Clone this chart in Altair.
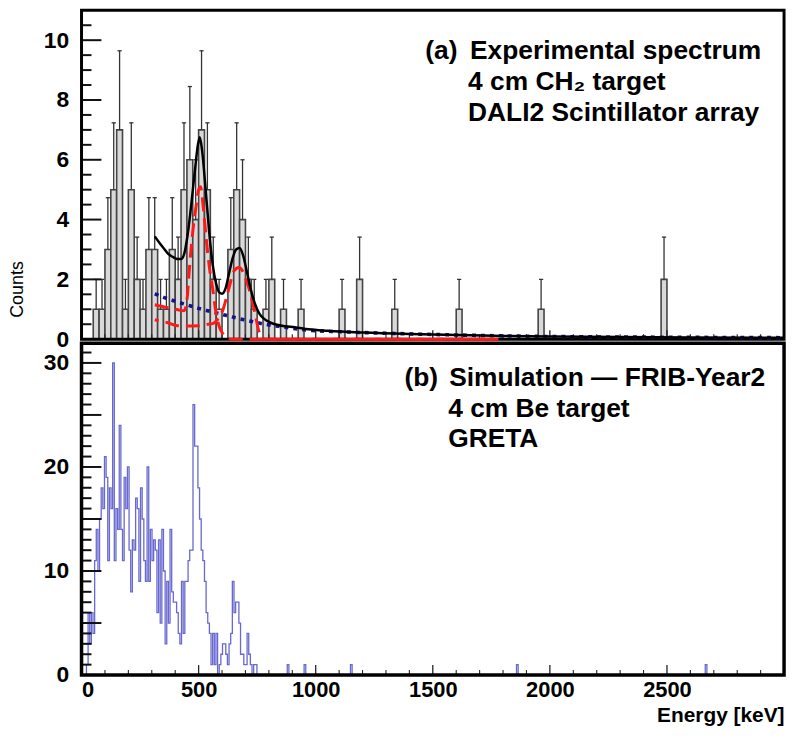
import altair as alt
import pandas as pd
import math

FONT = "Liberation Sans"

# ---------------- panel (a): experimental spectrum ----------------
EXP_BIN = 25  # keV
exp_centers = [62.5, 87.5, 112.5, 137.5, 162.5, 187.5, 212.5, 237.5, 262.5, 287.5,
               312.5, 337.5, 362.5, 387.5, 412.5, 437.5, 462.5, 487.5, 512.5, 537.5,
               562.5, 587.5, 637.5, 662.5, 687.5, 712.5, 737.5, 787.5, 812.5, 862.5,
               937.5, 1112.5, 1187.5, 1337.5, 1612.5, 1962.5, 2487.5]
exp_counts = [1, 1, 3, 5, 7, 1, 5, 2, 1, 3,
              3, 1, 1, 3, 2, 5, 6, 4, 7, 5,
              2, 1, 3, 5, 4, 2, 1, 1, 2, 1,
              1, 1, 2, 1, 1, 1, 2]

fit_energy = [313, 330, 350, 370, 390, 410, 425, 440, 455, 470, 485, 497, 505, 515, 530,
              545, 560, 575, 590, 600, 615, 630, 645, 660, 675, 690, 705, 720, 740, 760,
              780, 800, 830, 870, 910, 970, 1050, 1200, 1400, 1600, 1800, 2000, 2300, 2600, 3000]
fit_counts = [3.44, 3.25, 3.05, 2.85, 2.75, 2.68, 2.68, 2.9, 3.6, 4.6, 5.7, 6.5, 6.75, 6.3, 5.0,
              3.6, 2.5, 1.85, 1.55, 1.52, 1.7, 2.2, 2.7, 3.0, 3.05, 2.8, 2.3, 1.75, 1.2, 0.85,
              0.68, 0.58, 0.49, 0.43, 0.4, 0.33, 0.28, 0.22, 0.17, 0.14, 0.11, 0.09, 0.07, 0.06, 0.05]

bkg_energy = [313, 350, 400, 450, 500, 550, 600, 650, 700, 770, 850, 970, 1100, 1300,
              1600, 2000, 2500, 3000]
bkg_counts = [1.52, 1.4, 1.27, 1.15, 1.03, 0.93, 0.83, 0.73, 0.64, 0.52, 0.42, 0.3, 0.25, 0.2,
              0.14, 0.09, 0.065, 0.05]

peak1_energy = [313, 340, 365, 390, 420, 438, 450, 462, 475, 490, 500, 508, 520, 532, 546,
                560, 574, 587, 602, 620, 640, 1780]
peak1_counts = [1.15, 1.1, 1.06, 1.02, 0.97, 0.95, 1.3, 2.5, 3.6, 4.5, 5.0, 5.1, 4.4, 3.4, 2.4,
                1.7, 0.9, 0.45, 0.2, 0.06, 0.0, 0.0]

peak2_energy = [313, 340, 365, 405, 447, 500, 540, 560, 580, 602, 630, 651, 672, 690, 700,
                715, 729, 745, 757, 770, 785, 1780]
peak2_counts = [0.65, 0.6, 0.56, 0.46, 0.44, 0.45, 0.5, 0.52, 0.65, 0.94, 1.72, 2.28, 2.4, 2.25, 2.06,
                1.7, 1.28, 0.7, 0.28, 0.08, 0.0, 0.0]

# ---------------- panel (b): simulation ----------------
SIM_BIN = 7  # keV
sim_counts = [0, 0, 0, 1, 6, 3, 6, 4, 11, 14, 10, 15, 18, 16, 21, 19, 11, 18, 16, 30,
              11, 16, 14, 24, 14, 11, 19, 16, 20, 12, 8, 13, 12, 17, 16, 9, 18, 15, 11, 9,
              20, 9, 14, 11, 13, 12, 6, 13, 5, 14, 10, 3, 9, 5, 14, 8, 7, 7, 6, 4,
              3, 9, 4, 9, 9, 11, 12, 12, 26, 22, 22, 18, 15, 12, 11, 9, 6, 5, 4, 1,
              4, 1, 4, 0, 1, 2, 3, 3, 2, 1, 3, 4, 9, 6, 7, 7, 5, 2, 2, 1,
              1, 4, 2, 1, 0, 1, 1, 0]
sim_single_energy = [882, 954, 1152, 1861, 2667]
sim_single_counts = [1, 1, 1, 1, 1]

x_tick_labels = [0, 500, 1000, 1500, 2000, 2500]
top_y_labels = [0, 2, 4, 6, 8, 10]
bot_y_labels = [0, 10, 20, 30]

# ---------------- geometry ----------------
W = 707
H_TOP = 331
H_BOT = 334
X_MAX = 3000

xs = alt.Scale(domain=[0, X_MAX], nice=False, zero=False)
ys_top = alt.Scale(domain=[0, 11], nice=False)
ys_bot = alt.Scale(domain=[0, 31.9], nice=False)

# ---------------- data frames ----------------
hist = pd.DataFrame({"c": exp_centers, "n": exp_counts})
hist["x0"] = hist["c"] - EXP_BIN / 2
hist["x1"] = hist["c"] + EXP_BIN / 2
hist["top"] = hist["n"] + hist["n"].apply(math.sqrt)
hist["cap0"] = hist["c"] - 9
hist["cap1"] = hist["c"] + 9

fit_df = pd.DataFrame({"e": fit_energy, "n": fit_counts})
bkg_df = pd.DataFrame({"e": bkg_energy, "n": bkg_counts})
p1_df = pd.DataFrame({"e": peak1_energy, "n": peak1_counts})
p2_df = pd.DataFrame({"e": peak2_energy, "n": peak2_counts})

pts = [(i * SIM_BIN, c) for i, c in enumerate(sim_counts)]
pts.append((len(sim_counts) * SIM_BIN, 0))
for e, c in zip(sim_single_energy, sim_single_counts):
    pts.append((e - SIM_BIN / 2, c))
    pts.append((e + SIM_BIN / 2, 0))
pts.append((X_MAX, 0))
pts.sort(key=lambda p: p[0])
sim_df = pd.DataFrame({"e": [p[0] for p in pts], "n": [p[1] for p in pts],
                       "o": list(range(len(pts)))})

x_major = pd.DataFrame({"v": list(range(0, X_MAX + 1, 500))})
x_minor = pd.DataFrame({"v": [v for v in range(100, X_MAX, 100) if v % 500]})
ty_major = pd.DataFrame({"v": top_y_labels})
ty_minor = pd.DataFrame({"v": [k / 2 for k in range(1, 22) if k % 4]})
by_major = pd.DataFrame({"v": list(range(0, 31, 5))})
by_minor = pd.DataFrame({"v": [v for v in range(1, 32) if v % 5]})


def text_layer(txt, x, y, size=26.5, weight="bold", opacity=1.0, angle=0, align="left",
               baseline="alphabetic"):
    kw = dict(font=FONT, fontSize=size, fontWeight=weight, align=align, baseline=baseline,
              color="black", opacity=opacity)
    if angle:
        kw["angle"] = angle
    return alt.Chart(pd.DataFrame({"t": [txt]})).mark_text(**kw).encode(
        text="t:N", x=alt.value(x), y=alt.value(y))


def xticks(h, major_len, minor_len):
    a = alt.Chart(x_major).mark_rule(color="#222", strokeWidth=1.3).encode(
        x=alt.X("v:Q", scale=xs), y=alt.value(h), y2=alt.value(h - major_len))
    b = alt.Chart(x_minor).mark_rule(color="#222", strokeWidth=1.1).encode(
        x=alt.X("v:Q", scale=xs), y=alt.value(h), y2=alt.value(h - minor_len))
    return a + b


def yticks(major, minor, yscale):
    a = alt.Chart(major).mark_rule(color="#111", strokeWidth=2).encode(
        y=alt.Y("v:Q", scale=yscale), x=alt.value(0), x2=alt.value(20))
    b = alt.Chart(minor).mark_rule(color="#111", strokeWidth=2).encode(
        y=alt.Y("v:Q", scale=yscale), x=alt.value(0), x2=alt.value(10))
    return a + b


def frame(h, width=3):
    # thick black box around the plot area
    return alt.Chart(pd.DataFrame({"k": [0]})).mark_rect(
        fill=None, stroke="black", strokeWidth=width).encode(
        x=alt.value(0), x2=alt.value(W), y=alt.value(0), y2=alt.value(h))


yaxis_common = dict(ticks=False, domain=False, grid=False, labelPadding=13, title=None,
                    labelFont=FONT, labelFontSize=23, labelFontWeight="bold",
                    labelColor="black", format="d")

# ---------------- top panel ----------------
bars = alt.Chart(hist).mark_rect(fill="#d9d9d9", stroke="#454545", strokeWidth=1.6).encode(
    x=alt.X("x0:Q", scale=xs, axis=None),
    x2="x1:Q",
    y=alt.Y("n:Q", scale=ys_top, axis=alt.Axis(values=top_y_labels, **yaxis_common)),
    y2=alt.datum(0),
)
err = alt.Chart(hist).mark_rule(color="#333", strokeWidth=1.3).encode(
    x=alt.X("c:Q", scale=xs), y=alt.Y("n:Q", scale=ys_top), y2="top:Q")
caps = alt.Chart(hist).mark_rule(color="#333", strokeWidth=1.3).encode(
    x=alt.X("cap0:Q", scale=xs), x2="cap1:Q", y=alt.Y("top:Q", scale=ys_top))

bkg_line = alt.Chart(bkg_df).mark_line(color="#14148a", strokeWidth=3.6, strokeDash=[4, 5],
                                       interpolate="monotone").encode(
    x=alt.X("e:Q", scale=xs), y=alt.Y("n:Q", scale=ys_top))
p1_line = alt.Chart(p1_df).mark_line(color="#ff1a1a", strokeWidth=3, strokeDash=[14, 7],
                                     interpolate="monotone").encode(
    x=alt.X("e:Q", scale=xs), y=alt.Y("n:Q", scale=ys_top))
p2_line = alt.Chart(p2_df).mark_line(color="#ff1a1a", strokeWidth=3, strokeDash=[14, 7],
                                     strokeDashOffset=10, interpolate="monotone").encode(
    x=alt.X("e:Q", scale=xs), y=alt.Y("n:Q", scale=ys_top))
fit_line = alt.Chart(fit_df).mark_line(color="black", strokeWidth=2.5,
                                       interpolate="monotone").encode(
    x=alt.X("e:Q", scale=xs), y=alt.Y("n:Q", scale=ys_top))

top = alt.layer(
    bars, err, caps,
    yticks(ty_major, ty_minor, ys_top),
    xticks(H_TOP, 9, 5),
    frame(H_TOP),
    bkg_line, p1_line, p2_line, fit_line,
    text_layer("(a)", 346, 49),
    text_layer("Experimental spectrum", 391, 49),
    text_layer("4 cm CH₂ target", 389, 80),
    text_layer("DALI2 Scintillator array", 389, 111),
    text_layer("Counts", -64, 281, size=18, weight="normal", angle=270, align="center",
               baseline="middle"),
).properties(width=W, height=H_TOP)

# ---------------- bottom panel ----------------
sim_line = alt.Chart(sim_df).mark_line(color="#4d4dc8", strokeWidth=1.3, opacity=0.85,
                                       interpolate="step-after").encode(
    x=alt.X("e:Q", scale=xs, axis=alt.Axis(
        values=x_tick_labels, ticks=False, domain=False, grid=False, labelPadding=5,
        labelFont=FONT, labelFontSize=22, labelFontWeight="bold", labelColor="black",
        format="d", title="Energy [keV]", titleFont=FONT, titleFontSize=21,
        titleFontWeight="bold", titleColor="black", titleAnchor="end", titlePadding=4)),
    y=alt.Y("n:Q", scale=ys_bot, axis=alt.Axis(values=bot_y_labels, **yaxis_common)),
    order="o:Q",
)

bottom = alt.layer(
    sim_line,
    yticks(by_major, by_minor, ys_bot),
    xticks(H_BOT, 10, 5),
    frame(H_BOT, 3.5),
    text_layer("(b)", 325, 43),
    text_layer("Simulation — FRIB-Year2", 370, 43),
    text_layer("4 cm Be target", 369, 74),
    text_layer("GRETA", 369, 105),
    text_layer("Counts", -64, 100, size=18, weight="normal", angle=270, align="center",
               baseline="middle", opacity=0.0),
).properties(width=W, height=H_BOT)

PAD = {"left": 1, "top": -2, "right": 0, "bottom": 0}
chart = alt.vconcat(top, bottom, spacing=4, bounds="flush", padding=PAD
).configure(background="white", padding=PAD
).configure_view(strokeWidth=0)

chart.save("out.html", embed_options={"renderer": "svg", "actions": False})
